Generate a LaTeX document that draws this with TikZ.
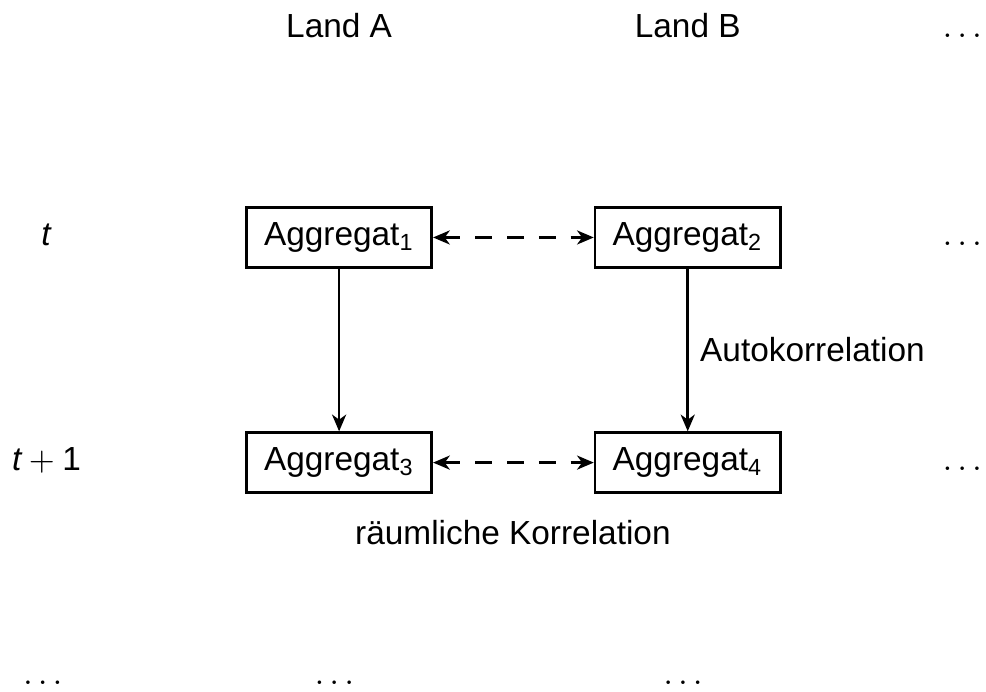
\documentclass[tikz,border=0pt]{standalone}
\usepackage{fontspec}
\setmainfont{Liberation Sans}
\usetikzlibrary{arrows.meta}
\tikzset{>={Stealth[length=5pt,width=4.2pt,inset=1.5pt]}}
\tikzset{agg/.style={draw,thick,minimum width=1.95cm,minimum height=0.63cm,inner sep=0pt},
  spatial/.style={<->,dash pattern=on 5pt off 4.5pt}}

\begin{document}
\begin{tikzpicture}[thick]
  \useasboundingbox (0,0) rectangle (10.38,-7.28);
  \coordinate (colL) at (0.49,0);
  \coordinate (colR) at (10.13,0);

  \node[anchor=base](landA) at (3.57,-0.39) {Land A};
  \node[anchor=base](landB) at (7.24,-0.39) {Land B};
  \node[anchor=base](dotsH) at (10.13,-0.39) {$\ldots$};

  \foreach \i/\x/\y in {1/3.57/-2.50, 2/7.24/-2.50, 3/3.57/-4.87, 4/7.24/-4.87} {
    \node[agg](a\i) at (\x,\y) {Aggregat\textsubscript{\i}};
  }

  \node[anchor=base](tA) at (a1.base -| colL) {\textit{t}};
  \node[anchor=base](tB) at (a3.base -| colL) {$\textit{t}+\textrm{1}$};
  \node[anchor=base](dotsA) at (a2.base -| colR) {$\ldots$};
  \node[anchor=base](dotsB) at (a4.base -| colR) {$\ldots$};

  \draw[->] (a1) -- (a3);
  \draw[->] (a2) -- node[right]{Autokorrelation} (a4);
  \draw[spatial] (a1) -- (a2);
  \draw[spatial] (a3) -- (a4);

  \node[anchor=base](spat) at (5.40,-5.73) {räumliche Korrelation};

  \foreach \x [count=\k] in {0.45, 3.52, 7.19} {
    \node[anchor=base](dotsV\k) at (\x,-7.21) {$\ldots$};
  }
\end{tikzpicture}
\end{document}
